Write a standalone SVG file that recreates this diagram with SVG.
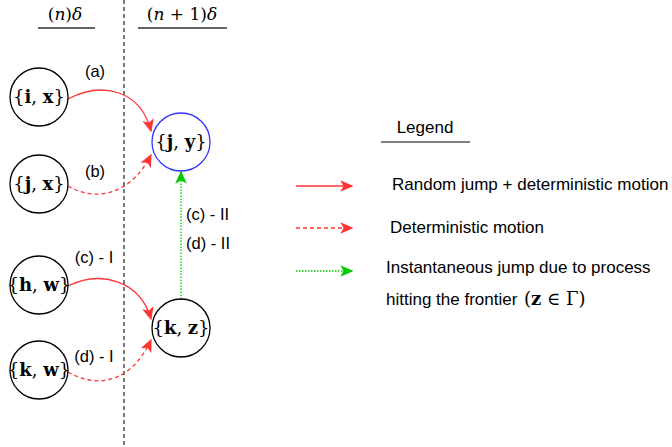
<svg xmlns="http://www.w3.org/2000/svg" width="672" height="447" viewBox="0 0 672 447">
<style>
.node{fill:#fff;stroke:#000;stroke-width:1.3}
.blue{stroke:#3333ff}
.m{font-family:"DejaVu Serif","Liberation Serif",serif;font-size:18px;fill:#000}
.mb{font-weight:bold}
.lbl{font-family:"Liberation Sans",Arial,sans-serif;font-size:16.5px;fill:#000}
.leg{font-family:"Liberation Sans",Arial,sans-serif;font-size:17px;fill:#000}
.red{fill:none;stroke:#ff3333;stroke-width:1.3}
.dash{stroke-dasharray:4 3}
.grn{fill:none;stroke:#00cc00;stroke-width:1.3;stroke-dasharray:1.5 1.5}
.hdr{font-family:"DejaVu Serif","Liberation Serif",serif;font-style:italic;font-size:17px;fill:#000}
</style>
<defs>
<marker id="ar" viewBox="0 0 10 10" refX="9" refY="5" markerWidth="13" markerHeight="13" markerUnits="userSpaceOnUse" orient="auto">
<path d="M0,0.5 L10,5 L0,9.5 L2.5,5 Z" fill="#ff3333"/>
</marker>
<marker id="ag" viewBox="0 0 10 10" refX="9" refY="5" markerWidth="13" markerHeight="13" markerUnits="userSpaceOnUse" orient="auto">
<path d="M0,0.5 L10,5 L0,9.5 L2.5,5 Z" fill="#00cc00"/>
</marker>
</defs>
<rect width="672" height="447" fill="#fff"/>
<g id="headers">
<line x1="124" y1="0" x2="124" y2="447" stroke="#333" stroke-width="1.3" stroke-dasharray="4 3"/>
<text x="65" y="20" text-anchor="middle" class="hdr"><tspan font-style="normal">(</tspan>n<tspan font-style="normal">)</tspan>δ</text>
<line x1="38" y1="28" x2="95" y2="28" stroke="#333" stroke-width="1.5"/>
<text x="182" y="20" text-anchor="middle" class="hdr"><tspan font-style="normal">(</tspan>n<tspan font-style="normal"> + 1)</tspan>δ</text>
<line x1="138" y1="28" x2="227" y2="28" stroke="#333" stroke-width="1.5"/>
</g>
<g id="connectors">
<path class="red" d="M68,99 C100,82 140,88 151,131" marker-end="url(#ar)"/>
<path class="red dash" d="M68,186 C95,202 130,196 151,155" marker-end="url(#ar)"/>
<path class="red" d="M68,286 C100,270 140,280 151,319" marker-end="url(#ar)"/>
<path class="red dash" d="M68,372 C95,388 130,385 151,340" marker-end="url(#ar)"/>
<path class="grn" d="M181,299 L181,172" marker-end="url(#ag)"/>
<text x="95" y="77" text-anchor="middle" class="lbl">(a)</text>
<text x="95" y="177" text-anchor="middle" class="lbl">(b)</text>
<text x="94" y="263" text-anchor="middle" class="lbl">(c) - I</text>
<text x="94" y="362" text-anchor="middle" class="lbl">(d) - I</text>
<text x="186" y="220" class="lbl">(c) - II</text>
<text x="186" y="249" class="lbl">(d) - II</text>
</g>
<g id="n_ix"><circle class="node" cx="39" cy="97" r="29"/><text x="39" y="103" text-anchor="middle" class="m">{<tspan class="mb">i</tspan>, <tspan class="mb">x</tspan>}</text></g>
<g id="n_jx"><circle class="node" cx="39" cy="184" r="29"/><text x="39" y="190" text-anchor="middle" class="m">{<tspan class="mb">j</tspan>, <tspan class="mb">x</tspan>}</text></g>
<g id="n_jy"><circle class="node blue" cx="181" cy="142" r="29"/><text x="181" y="148" text-anchor="middle" class="m">{<tspan class="mb">j</tspan>, <tspan class="mb">y</tspan>}</text></g>
<g id="n_hw"><circle class="node" cx="39" cy="285" r="29"/><text x="39" y="291" text-anchor="middle" class="m">{<tspan class="mb">h</tspan>, <tspan class="mb">w</tspan>}</text></g>
<g id="n_kw"><circle class="node" cx="39" cy="370" r="29"/><text x="39" y="376" text-anchor="middle" class="m">{<tspan class="mb">k</tspan>, <tspan class="mb">w</tspan>}</text></g>
<g id="n_kz"><circle class="node" cx="181" cy="328" r="29"/><text x="181" y="334" text-anchor="middle" class="m">{<tspan class="mb">k</tspan>, <tspan class="mb">z</tspan>}</text></g>
<g id="legend">
<text x="425" y="133" text-anchor="middle" class="leg">Legend</text>
<line x1="381" y1="142" x2="470" y2="142" stroke="#000" stroke-width="1.2"/>
<line x1="296" y1="186" x2="352" y2="186" class="red" marker-end="url(#ar)"/>
<text x="392" y="190" class="leg">Random jump + deterministic motion</text>
<line x1="296" y1="228" x2="352" y2="228" class="red dash" marker-end="url(#ar)"/>
<text x="390" y="233" class="leg">Deterministic motion</text>
<line x1="296" y1="271" x2="352" y2="271" class="grn" marker-end="url(#ag)"/>
<text x="386" y="273" class="leg">Instantaneous jump due to process</text>
<text x="386" y="305" class="leg">hitting the frontier</text>
<text x="524" y="305" class="m" font-size="19">(<tspan class="mb">z</tspan> ∈ Γ)</text>
</g>
</svg>
